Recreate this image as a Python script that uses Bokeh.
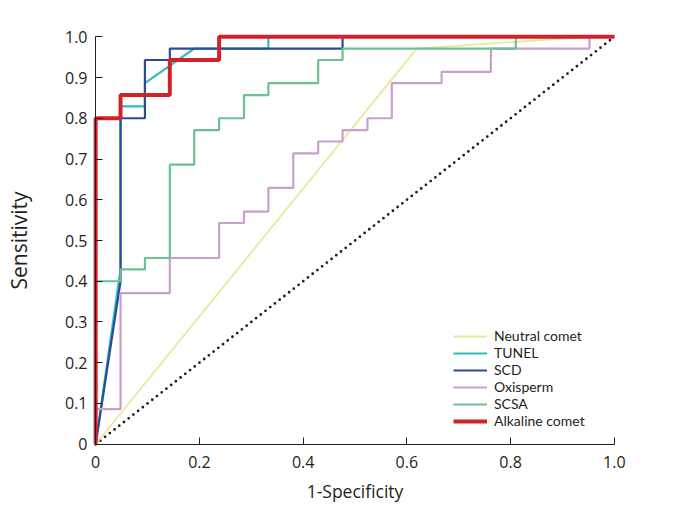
from bokeh.plotting import figure
from bokeh.models import FixedTicker, Range1d, Legend, LegendItem, LinearAxis
from bokeh.embed import file_html
from bokeh.resources import INLINE

# ---- data ----
x_ticks = [0, 0.2, 0.4, 0.6, 0.8, 1.0]
x_tick_labels = ["0", "0.2", "0.4", "0.6", "0.8", "1.0"]
y_ticks = [0, 0.1, 0.2, 0.3, 0.4, 0.5, 0.6, 0.7, 0.8, 0.9, 1.0]
y_tick_labels = ["0", "0.1", "0.2", "0.3", "0.4", "0.5", "0.6", "0.7", "0.8", "0.9", "1.0"]

neutral_x = [0, 0.619, 0.952, 1.0]
neutral_y = [0, 0.971, 1.0, 1.0]

tunel_x = [0, 0.048, 0.048, 0.095, 0.095, 0.190, 0.333, 0.333, 1.0]
tunel_y = [0, 0.429, 0.829, 0.829, 0.886, 0.971, 0.971, 1.0, 1.0]

scd_x = [0, 0.048, 0.048, 0.095, 0.095, 0.143, 0.143, 0.476, 0.476, 1.0]
scd_y = [0, 0.400, 0.800, 0.800, 0.943, 0.943, 0.971, 0.971, 1.0, 1.0]

oxi_x = [0, 0, 0.048, 0.048, 0.143, 0.143, 0.238, 0.238, 0.286, 0.286, 0.333, 0.333,
         0.381, 0.381, 0.429, 0.429, 0.476, 0.476, 0.524, 0.524, 0.571, 0.571,
         0.667, 0.667, 0.762, 0.762, 0.952, 0.952, 1.0]
oxi_y = [0, 0.086, 0.086, 0.371, 0.371, 0.457, 0.457, 0.543, 0.543, 0.571, 0.571, 0.629,
         0.629, 0.714, 0.714, 0.743, 0.743, 0.771, 0.771, 0.800, 0.800, 0.886,
         0.886, 0.914, 0.914, 0.971, 0.971, 1.0, 1.0]

scsa_x = [0, 0, 0.048, 0.048, 0.095, 0.095, 0.143, 0.143, 0.190, 0.190, 0.238, 0.238,
          0.286, 0.286, 0.333, 0.333, 0.429, 0.429, 0.476, 0.476, 0.810, 0.810, 1.0]
scsa_y = [0, 0.400, 0.400, 0.429, 0.429, 0.457, 0.457, 0.686, 0.686, 0.771, 0.771, 0.800,
          0.800, 0.857, 0.857, 0.886, 0.886, 0.943, 0.943, 0.971, 0.971, 1.0, 1.0]

alk_x = [0, 0, 0.048, 0.048, 0.143, 0.143, 0.238, 0.238, 1.0]
alk_y = [0, 0.800, 0.800, 0.857, 0.857, 0.943, 0.943, 1.0, 1.0]

ref_x = [0, 1]
ref_y = [0, 1]

FONT = "Open Sans"
TXT = "#231f20"

p = figure(width=648, height=505,
           x_range=Range1d(-0.008, 1.008), y_range=Range1d(-0.008, 1.008),
           output_backend="svg", toolbar_location=None,
           min_border_left=91, min_border_right=30,
           min_border_top=33, min_border_bottom=58)
p.outline_line_color = None
p.grid.visible = False
p.background_fill_color = "white"

# label axes (at the frame edges): text only
for ax, ticks, labels in ((p.xaxis[0], x_ticks, x_tick_labels), (p.yaxis[0], y_ticks, y_tick_labels)):
    ax.ticker = FixedTicker(ticks=ticks)
    ax.major_label_overrides = {t: l for t, l in zip(ticks, labels)}
    ax.axis_line_color = None
    ax.major_tick_line_color = None
    ax.minor_tick_line_color = None
    ax.major_tick_in = 0
    ax.major_tick_out = 0
    ax.major_label_text_font = FONT
    ax.major_label_text_font_size = "16px"
    ax.major_label_text_color = TXT
    ax.axis_label_text_font = FONT
    ax.axis_label_text_font_style = "normal"
    ax.axis_label_text_color = TXT

p.xaxis.axis_label = "1-Specificity"
p.yaxis.axis_label = "Sensitivity"
p.xaxis.axis_label_text_font_size = "17.5px"
p.yaxis.axis_label_text_font_size = "21px"
p.xaxis.major_label_standoff = 8
p.yaxis.major_label_standoff = 4
p.xaxis.axis_label_standoff = 8
p.yaxis.axis_label_standoff = 29

# line + tick axes, drawn at data 0
for place, ticks in (("below", x_ticks), ("left", y_ticks)):
    ax = LinearAxis(ticker=FixedTicker(ticks=ticks), fixed_location=0, bounds=(0, 1))
    ax.major_tick_in = 7
    ax.major_tick_out = 0
    ax.minor_tick_line_color = None
    ax.axis_line_color = TXT
    ax.major_tick_line_color = TXT
    ax.major_label_text_alpha = 0
    ax.major_label_text_font_size = "1px"
    p.add_layout(ax, place)

p.line(ref_x, ref_y, line_color=TXT, line_width=2.8, line_dash="0 6", line_cap="round")

r_neu = p.line(neutral_x, neutral_y, line_color="#e6ea98", line_width=1.8)
r_tun = p.line(tunel_x, tunel_y, line_color="#2fbcc0", line_width=2.2)
r_scd = p.line(scd_x, scd_y, line_color="#2b4a9a", line_width=2.2)
r_oxi = p.line(oxi_x, oxi_y, line_color="#c9a0cc", line_width=2.2)
r_scs = p.line(scsa_x, scsa_y, line_color="#6cc092", line_width=2.2)
r_alk = p.line(alk_x, alk_y, line_color="#d2232a", line_width=4)

legend = Legend(items=[
    LegendItem(label="Neutral comet", renderers=[r_neu]),
    LegendItem(label="TUNEL", renderers=[r_tun]),
    LegendItem(label="SCD", renderers=[r_scd]),
    LegendItem(label="Oxisperm", renderers=[r_oxi]),
    LegendItem(label="SCSA", renderers=[r_scs]),
    LegendItem(label="Alkaline comet", renderers=[r_alk]),
], location=(362, 18))
legend.glyph_width = 34
legend.glyph_height = 16
legend.label_height = 16
legend.label_standoff = 7
legend.spacing = 0
legend.padding = 0
legend.margin = 0
legend.border_line_color = None
legend.background_fill_alpha = 0
legend.label_text_font = "Lato"
legend.label_text_font_size = "14px"
legend.label_text_color = TXT
p.add_layout(legend)

open("out.html", "w").write(file_html(p, INLINE))
